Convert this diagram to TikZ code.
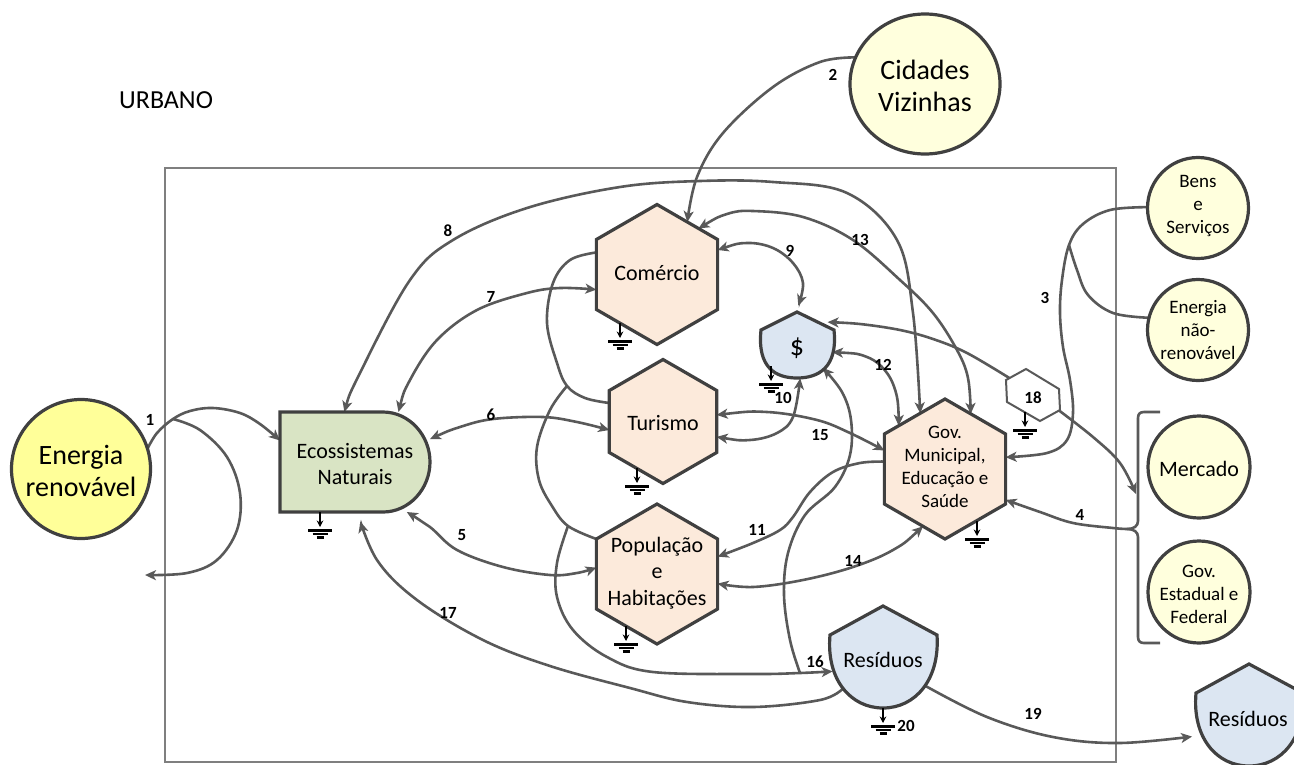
\documentclass[tikz,border=0pt]{standalone}
\usepackage{fontspec}
\setmainfont{Carlito}
\usetikzlibrary{shapes.geometric,arrows.meta}

\definecolor{outline}{HTML}{404040}
\definecolor{flowgray}{HTML}{595959}
\definecolor{framegray}{HTML}{7F7F7F}
\definecolor{peach}{HTML}{FCEADB}
\definecolor{sage}{HTML}{D9E4C4}
\definecolor{paleblue}{HTML}{DCE6F2}
\definecolor{sun}{HTML}{FFFF99}
\definecolor{cream}{HTML}{FFFFDD}

\pgfdeclarelayer{flows}
\pgfsetlayers{flows,main}

\tikzset{
  shapeline/.style={draw=outline, line width=3.2pt},
  hexa/.style={shapeline, regular polygon, regular polygon sides=6,
    shape border rotate=30, fill=peach, minimum size=#1,
    inner sep=0pt, outer sep=0pt},
  source/.style={shapeline, circle, fill=#1, inner sep=0pt, outer sep=0pt},
  hub/.style={circle, inner sep=0pt, outer sep=0pt},
  flowline/.style={draw=flowgray, line width=2.6pt},
  smoothed/.style={smooth, tension=0.6},
  txt/.style={align=center, inner sep=0pt, text=black},
  txtbig/.style={txt, font=\fontsize{28}{32}\selectfont},
  txtmid/.style={txt, font=\fontsize{22}{26.5}\selectfont},
  txtsmall/.style={txt, font=\fontsize{19}{23}\selectfont},
  num/.style={inner sep=0pt, font=\fontsize{17}{19}\selectfont\bfseries},
  gnd/.pic={
    \draw[line width=1.7pt, -{Stealth[length=6.5pt,width=6.5pt]}] (0,0) -- (0,15);
    \draw[line width=2.2pt] (-12,18.5) -- (12,18.5) (-7.5,22) -- (7.5,22)
      (-3.5,25.5) -- (3.5,25.5);
  }
}

\begin{document}
\begin{tikzpicture}[x=1pt, y=-1pt, >={Stealth[length=11pt,width=10pt,inset=3pt]}]
\useasboundingbox (0,0) rectangle (1294,764);
\clip (0,0) rectangle (1294,764);

% ---------- outer sources ----------
\node[source=sun, minimum size=139pt] (enr) at (81,469) {};
\node[shapeline, ellipse, fill=cream, minimum width=150pt, minimum height=140pt,
      inner sep=0pt, outer sep=0pt] (cid) at (925,84) {};
\node[source=cream, minimum size=101pt] (bens) at (1198,208) {};
\node[source=cream, minimum size=101pt] (ener) at (1198,330) {};
\node[source=cream, minimum size=102pt] (merc) at (1199,467) {};
\node[source=cream, minimum size=102pt] (gove) at (1199,592) {};

% ---------- natural ecosystems (producer symbol) ----------
\draw[shapeline, fill=sage] (280,412) -- (383,412)
  .. controls (409,412) and (430,435) .. (430,462)
  .. controls (430,489) and (409,512) .. (383,512) -- (280,512) -- cycle;
\node[minimum width=150pt, minimum height=100pt, inner sep=0pt, outer sep=0pt] (eco) at (355,462) {};

% ---------- consumers ----------
\node[hexa=140pt] (com) at (657,274.5) {};
\node[hexa=124pt] (tur) at (663,421.5) {};
\node[hexa=140pt] (pop) at (657,574) {};
\node[hexa=140pt] (gov) at (945,469) {};

% ---------- money and waste storages ----------
\draw[shapeline, fill=paleblue] (797,312) -- (834,330)
  .. controls (838,368) and (818,378) .. (797,378)
  .. controls (776,378) and (757,368) .. (761,330) -- cycle;
\node[hub, minimum size=73pt] (din) at (797,342) {};

\draw[shapeline, fill=paleblue, shift={(883,606)}] (0,0) -- (54,29)
  .. controls (57,74) and (32,102) .. (0,102)
  .. controls (-32,102) and (-57,74) .. (-53,29) -- cycle;
\node[hub, minimum size=106pt] (res) at (883,655) {};

\draw[shapeline, fill=paleblue, shift={(1249,664)}] (0,0) -- (54,29)
  .. controls (57,74) and (32,102) .. (0,102)
  .. controls (-32,102) and (-57,74) .. (-53,29) -- cycle;
\node[hub, minimum size=106pt] (reso) at (1249,713) {};

% ---------- exchange hexagon ----------
\draw[draw=flowgray, line width=2pt, fill=white] (1026,369) -- (1059,389) -- (1060,410)
  -- (1040,421) -- (1007,402) -- (1006,380) -- cycle;
\node[hub, minimum size=54pt] (h18) at (1033,395) {};

% ---------- texts ----------
\node[txt, font=\fontsize{26}{30}\selectfont, anchor=west] (urb) at (119,100) {URBANO};
\node[txtbig] (enr-t) at (81,471) {Energia\\renovável};
\node[txtbig] (cid-t) at (925,86) {Cidades\\Vizinhas};
\node[txtsmall] (bens-t) at (1198,206) {Bens\\e\\Serviços};
\node[txtsmall] (ener-t) at (1198,330) {Energia\\não-\\renovável};
\node[txtmid] (merc-t) at (1199,469) {Mercado};
\node[txtsmall] (gove-t) at (1199,594) {Gov.\\Estadual e\\Federal};
\node[txtmid] (eco-t) at (355,464) {Ecossistemas\\Naturais};
\node[txtmid] (com-t) at (657,273) {Comércio};
\node[txtmid] (tur-t) at (663,423) {Turismo};
\node[txtmid] (pop-t) at (657,573) {População\\e\\Habitações};
\node[txtsmall] (gov-t) at (945,467) {Gov.\\Municipal,\\Educação e\\Saúde};
\node[txt, font=\fontsize{28}{32}\selectfont] (din-t) at (797,348) {\$};
\node[txtmid] (res-t) at (883,660) {Resíduos};
\node[txtmid] (reso-t) at (1248,719) {Resíduos};

% ---------- flows ----------
\begin{pgfonlayer}{flows}
\draw[draw=framegray, line width=2pt] (165,168) rectangle (1116,762);

\coordinate (j1) at (173,419);
\coordinate (c1) at (145,575);
\coordinate (ja) at (567,386);
\coordinate (jb) at (568,526);
\coordinate (j16) at (800,673);
\coordinate (j3) at (1069,245);
\coordinate (brace) at (1127,529);
\coordinate (mkt) at (1136,494);

% 1
\draw[flowline,->] plot[smoothed] coordinates {(enr.17) (157,433) (j1) (190,411) (213,408) (240,413) (260,424) (eco.164)};
\draw[flowline,->] plot[smoothed] coordinates {(j1) (200,430) (227,457) (240,493) (237,530) (217,560) (187,573) (c1)};
% 2
\draw[flowline,->] plot[smoothed] coordinates {(cid.159) (820,62) (773,87) (723,133) (697,177) (com.60)};
% 3
\draw[flowline,->] plot[smoothed] coordinates {(bens.179) (1110,210) (1083,224) (j3) (1062,280) (1060,313) (1063,347) (1070,380) (1073,413) (1067,440) (1047,453) (gov.11)};
\draw[flowline] plot[smoothed] coordinates {(ener.166) (1113,313) (1088,295) (1077,270) (j3)};
% brace grouping market and state/federal government
\draw[flowline] (1160,412) -- (1144,412) .. controls (1140,412) and (1138,414) .. (1138,418)
  -- (1138,521) .. controls (1138,526) and (1134,529) .. (brace);
\draw[flowline] (brace) .. controls (1134,529) and (1138,532) .. (1138,537)
  -- (1138,637) .. controls (1138,641) and (1140,643) .. (1144,643) -- (1160,643);
% 4
\draw[flowline,->] plot[smoothed] coordinates {(brace) (1113,528) (1073,523) (1040,512) (gov.-27)};
% 5
\draw[flowline,<->] plot[smoothed] coordinates {(eco.-44) (430,527) (457,550) (503,567) (550,575) (577,573) (pop.174)};
% 6
\draw[flowline,<->] plot[smoothed] coordinates {(eco.17) (460,427) (493,419) (543,417) (577,422) (tur.189)};
% 7
\draw[flowline,<->] plot[smoothed] coordinates {(eco.49) (410,380) (437,340) (477,310) (527,293) (560,288) (com.194)};
% 8
\draw[flowline,<->] plot[smoothed] coordinates {(eco.102) (360,373) (410,280) (453,240) (527,208) (620,187) (700,181) (773,182) (847,193) (897,240) (913,313) (gov.114)};
% 9
\draw[flowline,<->] plot[smoothed] coordinates {(com.22) (747,243) (773,248) (793,263) (803,283) (din.88)};
% 10
\draw[flowline,<->] plot[smoothed] coordinates {(tur.-16) (750,440) (777,433) (793,417) (din.-85)};
% 11
\draw[flowline,->] plot[smoothed] coordinates {(gov.173) (860,463) (833,472) (810,492) (793,517) (780,530) (753,543) (pop.16)};
% 12
\draw[flowline,<->] plot[smoothed] coordinates {(din.-16) (867,357) (887,373) (897,397) (gov.137)};
% 13
\draw[flowline,<->] plot[smoothed] coordinates {(com.48) (727,214) (753,211) (803,217) (853,240) (900,280) (933,313) (957,350) (968,378) (gov.65)};
% 14
\draw[flowline,<->] plot[smoothed] coordinates {(gov.249) (893,550) (853,567) (803,580) (753,587) (pop.-9)};
% 15
\draw[flowline,<->] plot[smoothed] coordinates {(tur.7) (767,412) (817,420) (850,433) (gov.163)};
% 16: waste collected from the consumers
\draw[flowline] plot[smoothed] coordinates {(com.160) (570,260) (553,283) (547,323) (557,363) (ja) (585,398) (tur.161)};
\draw[flowline] plot[smoothed] coordinates {(ja) (550,410) (537,447) (539,480) (552,506) (jb) (pop.150)};
\draw[flowline,->] plot[smoothed] coordinates {(jb) (557,563) (557,597) (573,630) (607,657) (653,672) (753,674) (j16) (res.198)};
\draw[flowline,->] plot[smoothed] coordinates {(j16) (790,640) (784,595) (788,553) (805,515) (835,487) (850,455) (851,420) (842,392) (din.-45)};
% 17
\draw[flowline,->,shorten >=10pt] plot[smoothed] coordinates {(res.220) (820,700) (753,707) (687,702) (630,688) (550,666) (483,640) (417,600) (377,560) (eco.-87)};
% 18
\draw[flowline,->] plot[smoothed] coordinates {(h18.144) (967,353) (933,339) (900,330) (860,324) (din.33)};
\draw[flowline,->] plot[smoothed] coordinates {(h18.-30) (1093,437) (1120,463) (mkt)};
% 19
\draw[flowline,->,shorten >=9pt] plot[smoothed] coordinates {(res.-36) (987,717) (1053,737) (1120,743) (reso.205)};
\end{pgfonlayer}

% ---------- heat sinks ----------
\pic at (320,512) {gnd};
\pic at (620,323) {gnd};
\pic at (637,468) {gnd};
\pic at (626,626) {gnd};
\pic at (977,521) {gnd};
\pic at (771,366) {gnd};
\pic at (883,708) {gnd};
\pic at (1025,412) {gnd};

% ---------- flow numbers ----------
\node[num] (n1) at (150,420) {1};
\node[num] (n2) at (833,75) {2};
\node[num] (n3) at (1045,298) {3};
\node[num] (n4) at (1080,515) {4};
\node[num] (n5) at (462,535) {5};
\node[num] (n6) at (491,415) {6};
\node[num] (n7) at (491,297) {7};
\node[num] (n8) at (448,231) {8};
\node[num] (n9) at (790,251) {9};
\node[num] (n10) at (783,398) {10};
\node[num] (n11) at (757,530) {11};
\node[num] (n12) at (883,365) {12};
\node[num] (n13) at (860,240) {13};
\node[num] (n14) at (853,561) {14};
\node[num] (n15) at (820,435) {15};
\node[num] (n16) at (815,662) {16};
\node[num] (n17) at (448,613) {17};
\node[num] (n18) at (1033,398) {18};
\node[num] (n19) at (1033,714) {19};
\node[num] (n20) at (906,726) {20};
\end{tikzpicture}
\end{document}
